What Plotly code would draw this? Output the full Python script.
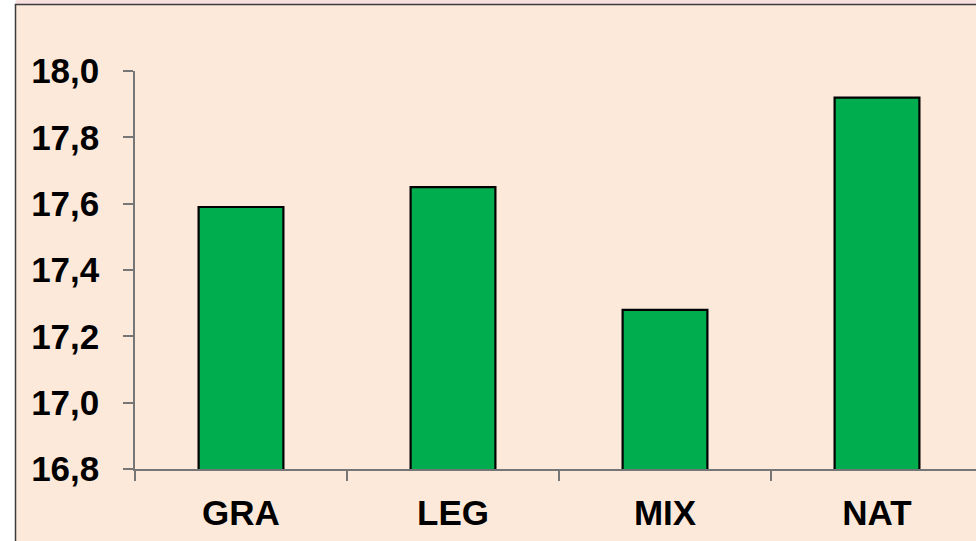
import plotly.graph_objects as go

# Mean values per treatment group
categories = ["GRA", "LEG", "MIX", "NAT"]
values = [17.59, 17.65, 17.28, 17.92]
y_ticks = [16.8, 17.0, 17.2, 17.4, 17.6, 17.8, 18.0]

W, H = 976, 541
ML, MR, MT, MB = 135, 0, 71, 72

FAMILY = "Liberation Sans, Arial, sans-serif"
LABEL_FONT = dict(family=FAMILY, size=35, color="black", weight="bold")
AXIS_COLOR = "#767676"

fig = go.Figure(
    go.Bar(
        x=categories,
        y=values,
        width=0.4,
        marker=dict(color="#00AD4E", line=dict(color="black", width=2.2)),
    )
)

# plot-area pixel helpers for the outer frame (paper units)
pw = W - ML - MR
ph = H - MT - MB
def px_x(p):
    return (p - ML) / pw
def px_y(p):
    return (H - MB - p) / ph

fig.update_layout(
    width=W,
    height=H,
    margin=dict(l=ML, r=MR, t=MT, b=MB, pad=0),
    paper_bgcolor="white",
    plot_bgcolor="rgba(0,0,0,0)",
    separators=", ",
    showlegend=False,
    font=dict(family=FAMILY, color="black"),
    shapes=[
        dict(type="rect", xref="paper", yref="paper", layer="below",
             x0=px_x(15.5), x1=px_x(990), y0=px_y(4.5), y1=px_y(-5),
             fillcolor="#F7E0DE", line=dict(width=0)),
        dict(type="rect", xref="paper", yref="paper", layer="below",
             x0=px_x(15.5), x1=px_x(990), y0=px_y(560), y1=px_y(4.5),
             fillcolor="#FDE9DA", line=dict(color="#3c3c3c", width=1.5)),
    ],
)

fig.update_xaxes(
    type="category",
    range=[-0.5, -0.5 + pw / 212.0],
    showline=True, linecolor=AXIS_COLOR, linewidth=1.5,
    ticks="outside", ticklen=10, tickwidth=1.5, tickcolor=AXIS_COLOR,
    tickson="boundaries",
    tickfont=LABEL_FONT,
    ticklabelstandoff=12,
    showgrid=False, zeroline=False, fixedrange=True,
)

fig.update_yaxes(
    range=[16.8, 18.0],
    tickvals=y_ticks,
    tickformat=".1f",
    showline=True, linecolor=AXIS_COLOR, linewidth=1.5,
    ticks="outside", ticklen=10, tickwidth=1.5, tickcolor=AXIS_COLOR,
    tickfont=LABEL_FONT,
    ticklabelstandoff=17,
    showgrid=False, zeroline=False, fixedrange=True,
)

fig.write_html("out.html", config={"displayModeBar": False})
